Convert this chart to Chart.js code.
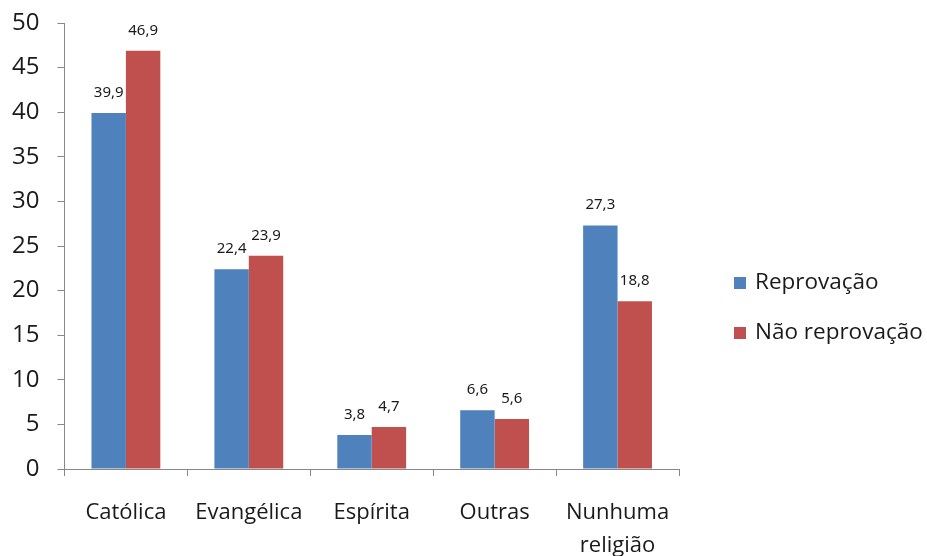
<!DOCTYPE html>
<html>
<head>
<meta charset="utf-8">
<script src="https://cdn.jsdelivr.net/npm/chart.js@4"></script>
<style>
  html, body { margin: 0; padding: 0; background: #fff; }
  #wrap { width: 927px; height: 556px; }
</style>
</head>
<body>
<div id="wrap"><canvas id="grafico"></canvas></div>
<script>
// datos
const categorias = ["Católica", "Evangélica", "Espírita", "Outras", ["Nunhuma", "religião"]];
const reprovacao = [39.9, 22.4, 3.8, 6.6, 27.3];
const naoReprovacao = [46.9, 23.9, 4.7, 5.6, 18.8];
const nomesSeries = ["Reprovação", "Não reprovação"];
const ticksY = [0, 5, 10, 15, 20, 25, 30, 35, 40, 45, 50];

const fonte = "'Open Sans', 'Noto Sans', sans-serif";

// pinta el valor arriba de cada barra, con coma decimal
const etiquetasValores = {
  id: "etiquetasValores",
  afterDatasetsDraw(chart) {
    const ctx = chart.ctx;
    ctx.save();
    ctx.font = "15px 'Noto Sans', sans-serif";
    ctx.fillStyle = "#1a1a1a";
    ctx.textAlign = "center";
    ctx.textBaseline = "alphabetic";
    chart.data.datasets.forEach((ds, i) => {
      chart.getDatasetMeta(i).data.forEach((barra, j) => {
        const texto = ds.data[j].toFixed(1).replace(".", ",");
        ctx.fillText(texto, barra.x, barra.y - 16);
      });
    });
    ctx.restore();
  }
};

// leyenda a la derecha, dibujada en el espacio que deja el padding
const leyendaDerecha = {
  id: "leyendaDerecha",
  afterDraw(chart) {
    const ctx = chart.ctx;
    const area = chart.chartArea;
    const x = area.right + 55;
    const yInicio = (area.top + area.bottom) / 2 + 37;
    ctx.save();
    ctx.font = "22.5px " + fonte;
    ctx.textAlign = "left";
    ctx.textBaseline = "middle";
    chart.data.datasets.forEach((ds, i) => {
      const y = yInicio + i * 50;
      ctx.fillStyle = ds.backgroundColor;
      ctx.fillRect(x, y - 6, 12, 12);
      ctx.fillStyle = "#1a1a1a";
      ctx.fillText(ds.label, x + 21, y);
    });
    ctx.restore();
  }
};

const config = {
  type: "bar",
  data: {
    labels: categorias,
    datasets: [
      { label: nomesSeries[0], data: reprovacao, backgroundColor: "#4F81BD" },
      { label: nomesSeries[1], data: naoReprovacao, backgroundColor: "#C0504D" }
    ]
  },
  options: {
    responsive: true,
    maintainAspectRatio: false,
    animation: false,
    layout: { padding: { top: 23, left: -6, bottom: -26, right: 248 } },
    datasets: { bar: { categoryPercentage: 0.56, barPercentage: 1 } },
    plugins: {
      legend: { display: false },
      tooltip: { enabled: false }
    },
    scales: {
      x: {
        grid: { drawOnChartArea: false, tickLength: 7, color: "#888" },
        border: { color: "#888" },
        ticks: { color: "#1a1a1a", padding: 20, maxRotation: 0, font: { family: fonte, size: 22, lineHeight: 1.5 } }
      },
      y: {
        min: 0,
        max: 50,
        afterBuildTicks: (escala) => { escala.ticks = ticksY.map((v) => ({ value: v })); },
        afterFit: (escala) => { escala.paddingTop = 0; },
        grid: { drawOnChartArea: false, tickLength: 7, color: "#888" },
        border: { color: "#888" },
        ticks: { color: "#1a1a1a", padding: 18, font: { family: fonte, size: 24 } }
      }
    }
  },
  plugins: [etiquetasValores, leyendaDerecha]
};

let myChart;
document.fonts.load("21px 'Open Sans'").then(() => {
  myChart = new Chart(document.getElementById("grafico"), config);
});
</script>
</body>
</html>
